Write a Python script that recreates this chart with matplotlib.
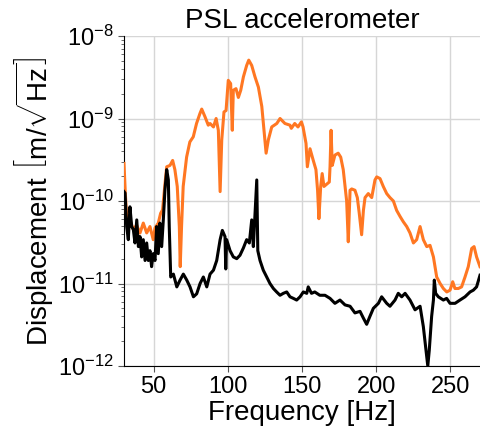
import numpy as np
import matplotlib
matplotlib.use("Agg")
import matplotlib.pyplot as plt

plt.rcParams['font.family'] = ['Liberation Sans', 'DejaVu Sans']
plt.rcParams['mathtext.fontset'] = 'custom'
plt.rcParams['mathtext.rm'] = 'Liberation Sans'
plt.rcParams['mathtext.it'] = 'Liberation Sans:italic'
plt.rcParams['mathtext.bf'] = 'Liberation Sans:bold'

# Injected (orange) spectrum: frequency [Hz] and displacement [m/rtHz]
freq_inj = [30.0, 30.9, 31.8, 34.0, 36.3, 38.5, 40.8, 43.0, 45.3, 47.5,
            49.7, 50.9, 53.1, 54.7, 56.0, 57.6, 58.8, 61.0, 62.8, 64.3,
            65.9, 67.3, 67.9, 68.8, 69.9, 72.2, 74.4, 76.7, 78.9, 81.2,
            82.4, 84.6, 86.8, 88.0, 90.3, 92.1, 93.6, 94.8, 95.9, 97.4,
            98.8, 100.3, 101.9, 103.0, 103.7, 105.5, 107.1, 108.7, 110.5, 112.7,
            114.1, 116.1, 118.3, 120.6, 122.9, 124.4, 125.8, 127.3, 129.6, 133.0,
            135.2, 138.5, 141.9, 142.8, 145.1, 147.3, 149.6, 150.7, 152.7, 153.6,
            155.4, 157.6, 159.4, 160.5, 161.4, 162.6, 163.6, 164.8, 166.7, 168.4,
            168.9, 169.6, 170.4, 172.2, 174.4, 176.1, 177.8, 179.0, 180.1, 181.2,
            182.4, 183.5, 185.7, 187.3, 188.6, 190.2, 191.4, 192.5, 194.7, 197.0,
            199.2, 200.4, 202.6, 204.8, 207.1, 209.3, 211.6, 213.8, 216.1, 218.3,
            220.6, 222.8, 225.1, 227.3, 229.6, 231.8, 234.1, 236.3, 238.6, 240.8,
            243.1, 245.3, 247.6, 249.8, 251.6, 253.1, 255.4, 257.6, 259.9, 262.1,
            264.4, 266.0, 267.7, 270.0]
disp_inj = [2.85e-10, 1.23e-10, 6.4e-11, 5.9e-11, 4.5e-11, 5.1e-11, 4.1e-11, 5.4e-11, 4.1e-11, 4.9e-11,
            3.4e-11, 4.7e-11, 5.4e-11, 7.1e-11, 7.8e-11, 1.6e-10, 2.6e-10, 2.7e-10, 3.1e-10, 2.4e-10,
            1.5e-10, 4.9e-11, 1.6e-11, 4.9e-11, 1.5e-10, 3.4e-10, 5.2e-10, 6.0e-10, 8.7e-10, 1.15e-09,
            1.3e-09, 1.05e-09, 8.3e-10, 8.7e-10, 7.9e-10, 1.0e-09, 7.2e-10, 1.3e-10, 5.5e-10, 1.2e-09,
            1.25e-09, 2.9e-09, 2.65e-09, 7.2e-10, 2.2e-09, 2.3e-09, 1.8e-09, 2.2e-09, 3.2e-09, 4.4e-09,
            5.1e-09, 4.4e-09, 3.2e-09, 2.4e-09, 1.4e-09, 7.2e-10, 3.8e-10, 5.5e-10, 7.9e-10, 8.7e-10,
            1.0e-09, 8.7e-10, 8.3e-10, 7.6e-10, 8.7e-10, 7.9e-10, 9.1e-10, 7.9e-10, 5.0e-10, 2.6e-10,
            4.3e-10, 3.1e-10, 2.4e-10, 1.35e-10, 6.1e-11, 1.5e-10, 2.15e-10, 1.5e-10, 1.6e-10, 1.7e-10,
            2.6e-10, 7.2e-10, 2.7e-10, 3.6e-10, 3.8e-10, 3.4e-10, 2.4e-10, 1.5e-10, 1.0e-10, 3.2e-11,
            1.35e-10, 1.4e-10, 1.35e-10, 1.1e-10, 7.1e-11, 3.9e-11, 7.7e-11, 1.1e-10, 1.23e-10, 1.1e-10,
            1.8e-10, 1.96e-10, 1.87e-10, 1.5e-10, 1.23e-10, 1.1e-10, 1.0e-10, 7.7e-11, 6.5e-11, 5.6e-11,
            4.9e-11, 4.1e-11, 3.1e-11, 3.4e-11, 4.9e-11, 3.4e-11, 2.8e-11, 2.9e-11, 2.1e-11, 1.2e-11,
            1.0e-11, 8.7e-12, 7.9e-12, 8.3e-12, 1.05e-11, 8.7e-12, 8.7e-12, 9.1e-12, 1.2e-11, 1.6e-11,
            2.66e-11, 2.8e-11, 2.1e-11, 1.6e-11]

# Ambient (black) spectrum
freq_amb = [30.0, 30.7, 31.8, 32.9, 34.0, 35.2, 36.3, 37.4, 38.6, 39.7,
            40.8, 41.9, 43.0, 44.2, 45.3, 46.4, 47.5, 48.6, 49.7, 50.9,
            52.0, 53.1, 54.2, 55.4, 56.5, 57.6, 58.8, 59.9, 60.5, 61.5,
            63.3, 65.6, 67.8, 70.0, 72.3, 74.5, 76.8, 79.0, 81.3, 83.5,
            85.8, 88.0, 90.3, 92.5, 94.8, 96.3, 98.1, 98.6, 99.2, 101.5,
            103.7, 106.0, 108.2, 110.5, 112.7, 114.5, 116.1, 117.2, 119.5, 120.2,
            121.7, 123.9, 126.2, 128.4, 130.7, 132.9, 135.2, 137.4, 139.7, 141.9,
            144.2, 146.4, 148.7, 150.9, 153.2, 154.2, 156.4, 158.6, 162.0, 165.5,
            168.9, 172.2, 175.6, 179.0, 182.4, 185.7, 189.1, 191.4, 193.6, 195.8,
            198.1, 201.5, 203.7, 207.1, 209.3, 212.7, 214.9, 217.2, 219.5, 222.8,
            226.2, 229.6, 231.8, 233.6, 234.8, 235.8, 237.4, 238.6, 239.2, 240.1,
            241.9, 245.3, 247.5, 249.8, 253.2, 256.5, 259.9, 263.3, 265.5, 267.7,
            270.0]
disp_amb = [1.3e-10, 1.25e-10, 4.9e-11, 3.4e-11, 8.5e-11, 4.9e-11, 4.5e-11, 3.1e-11, 5.9e-11, 2.8e-11,
            3.7e-11, 2.1e-11, 3.4e-11, 1.9e-11, 3.1e-11, 1.9e-11, 2.5e-11, 1.6e-11, 2.3e-11, 1.9e-11,
            4.9e-11, 2.3e-11, 5.4e-11, 2.8e-11, 5.9e-11, 1.35e-10, 2.4e-10, 1.8e-10, 4.9e-11, 1.2e-11,
            1.3e-11, 9.1e-12, 1.1e-11, 1.3e-11, 1.1e-11, 9.1e-12, 6.9e-12, 7.5e-12, 1.0e-11, 1.2e-11,
            9.1e-12, 1.3e-11, 1.45e-11, 1.9e-11, 3.4e-11, 4.4e-11, 3.7e-11, 1.5e-11, 3.4e-11, 2.5e-11,
            2.1e-11, 2.0e-11, 2.2e-11, 2.7e-11, 3.4e-11, 3.1e-11, 5.9e-11, 2.8e-11, 1.8e-10, 2.5e-11,
            1.9e-11, 1.45e-11, 1.2e-11, 1.0e-11, 8.7e-12, 7.9e-12, 7.2e-12, 7.6e-12, 7.9e-12, 6.9e-12,
            6.6e-12, 6.3e-12, 6.9e-12, 7.9e-12, 7.6e-12, 9.1e-12, 7.6e-12, 7.9e-12, 7.2e-12, 7.2e-12,
            6.6e-12, 5.75e-12, 6.3e-12, 5.5e-12, 5.3e-12, 4.4e-12, 4.6e-12, 3.8e-12, 3.2e-12, 4.0e-12,
            5.0e-12, 5.75e-12, 6.9e-12, 5.75e-12, 5.3e-12, 6.3e-12, 7.6e-12, 6.9e-12, 7.6e-12, 6.3e-12,
            4.8e-12, 5.3e-12, 3.0e-12, 1.55e-12, 1.0e-12, 1.55e-12, 4.0e-12, 6.3e-12, 1.1e-11, 7.6e-12,
            6.9e-12, 6.3e-12, 6.6e-12, 5.75e-12, 5.75e-12, 6.3e-12, 6.9e-12, 7.9e-12, 8.3e-12, 9.1e-12,
            1.26e-11]

fig = plt.figure(figsize=(4.81, 4.34), dpi=100)
ax = fig.add_axes([124 / 481, 1 - 366 / 434, 356 / 481, 330 / 434])

ax.plot(freq_inj, disp_inj, color='#ff7722', lw=2.2, zorder=3)
ax.plot(freq_amb, disp_amb, color='black', lw=2.2, zorder=4)

ax.set_yscale('log')
ax.set_xlim(30, 270)
ax.set_ylim(1e-12, 1e-8)
ax.set_xticks([50, 100, 150, 200, 250])
ax.grid(True, which='major', color='#d6d6d6', lw=1.0)
ax.set_axisbelow(True)
for side in ('top', 'right'):
    ax.spines[side].set_visible(False)
ax.tick_params(axis='both', which='major', labelsize=17, length=4, color='#555555')
ax.tick_params(axis='y', which='minor', length=2, color='#555555')

ax.set_title('PSL accelerometer', fontsize=20, pad=6)
ax.set_xlabel('Frequency [Hz]', fontsize=20, labelpad=1)
ax.set_ylabel(r'Displacement $\left[\mathrm{m}/\sqrt{\mathrm{Hz}}\right]$', fontsize=20, labelpad=2)

fig.savefig('out.png', dpi=100)
